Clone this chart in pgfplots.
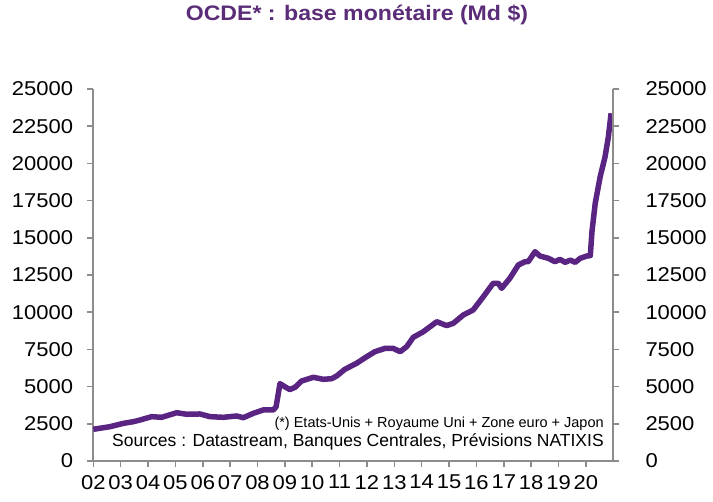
\documentclass[border=0pt]{standalone}
\usepackage{fontspec}
\setmainfont{Liberation Sans}
\newfontfamily\wide{Liberation Sans}[FakeStretch=1.1]
\usepackage{pgfplots}
\pgfplotsset{compat=1.18}
\definecolor{linep}{HTML}{5A2482}
\definecolor{titlep}{HTML}{5B2C78}
\definecolor{axg}{HTML}{8C8C8C}

\pgfplotstableread{
year value
2002.00 2130
2002.61 2305
2003.10 2530
2003.46 2640
2003.71 2755
2004.13 2980
2004.50 2935
2005.05 3245
2005.41 3140
2005.90 3160
2006.26 2980
2006.75 2935
2007.24 3025
2007.48 2910
2007.85 3205
2008.21 3430
2008.58 3430
2008.68 3650
2008.82 5200
2009.00 4990
2009.18 4800
2009.37 4950
2009.61 5375
2010.04 5625
2010.40 5490
2010.71 5530
2010.89 5710
2011.19 6160
2011.62 6565
2011.99 7010
2012.29 7345
2012.66 7570
2012.96 7570
2013.21 7345
2013.45 7680
2013.69 8310
2014.06 8690
2014.55 9360
2014.91 9100
2015.15 9250
2015.52 9810
2015.88 10150
2016.25 11040
2016.61 11940
2016.80 11940
2016.92 11605
2017.22 12280
2017.53 13170
2017.77 13390
2017.89 13390
2018.14 14065
2018.32 13775
2018.63 13620
2018.87 13390
2019.05 13550
2019.24 13350
2019.43 13500
2019.61 13350
2019.79 13620
2020.04 13780
2020.16 13800
2020.22 15400
2020.34 17320
2020.52 19100
2020.70 20450
2020.82 21790
2020.92 23370
}\datatable

\begin{document}
\begin{tikzpicture}[x=1pt,y=1pt]
\pgfplotsset{
  common/.style={
    scale only axis, width=520pt, height=372pt,
    xmin=2002, xmax=2021, ymin=0, ymax=25000,
    ytick={0,2500,...,25000},
    scaled y ticks=false,
    yticklabel style={/pgf/number format/1000 sep={}},
    /pgf/number format/assume math mode=true,
    axis line style={axg, line width=2pt},
    tick style={axg, line width=1.5pt},
    major tick length=6pt, tick align=outside,
    tick label style={font=\wide\fontsize{20}{20}\selectfont},
  }
}
\begin{axis}[common,
  axis x line*=bottom, axis y line*=left,
  xtick={2002,...,2020},
  xticklabels={02,03,04,05,06,07,08,09,10,11,12,13,14,15,16,17,18,19,20},
  xticklabel style={inner sep=0pt, yshift=-8pt},
  yticklabel style={inner sep=0pt, xshift=-14pt},
  clip=false,
]
\addplot[linep, line width=5.5pt, line join=round] table[x=year,y=value] {\datatable};
\node[anchor=base east, font=\fontsize{14.5}{14.5}\selectfont, inner sep=0pt] at (rel axis cs:0.982,0.0906) {(*) Etats-Unis + Royaume Uni + Zone euro + Japon};
\node[anchor=base east, font=\fontsize{17.5}{17.5}\selectfont, inner sep=0pt] at (rel axis cs:0.982,0.0403) {Sources : Datastream, Banques Centrales, Prévisions NATIXIS};
\node[anchor=base, font=\wide\bfseries\fontsize{21}{21}\selectfont, text=titlep, inner sep=0pt] at (rel axis cs:0.507,1.185) {OCDE* : base monétaire (Md \$)};
\path (rel axis cs:0,0) ++(-93.3pt,-41pt) rectangle ++(713pt,502pt);
\end{axis}
\begin{axis}[common,
  axis y line*=right, axis x line=none,
  yticklabel style={inner sep=0pt, xshift=26pt},
]
\end{axis}
\end{tikzpicture}
\end{document}
